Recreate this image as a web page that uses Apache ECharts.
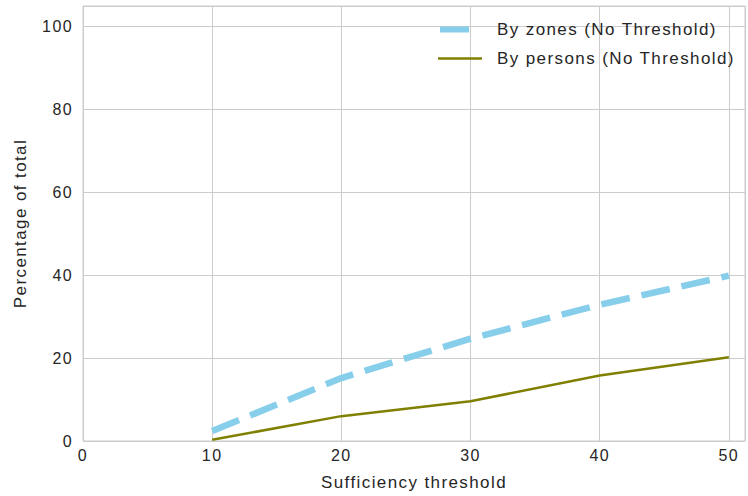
<!DOCTYPE html>
<html>
<head>
<meta charset="utf-8">
<script src="https://cdn.jsdelivr.net/npm/echarts@6/dist/echarts.min.js"></script>
<style>
  html, body { margin: 0; padding: 0; background: #fff; }
  #chart { width: 748px; height: 496px; }
  /* slightly open tracking on all chart text */
  #chart text { letter-spacing: 1.4px; }
</style>
</head>
<body>
<div id="chart"></div>
<script>
// Sufficiency thresholds (x) and share of total (%) reached
const thresholds = [10, 20, 30, 40, 50];
const byZones = [2.4, 15.2, 24.7, 32.9, 39.9];
const byPersons = [0.3, 6.0, 9.6, 15.8, 20.2];
const seriesNames = ['By zones (No Threshold)', 'By persons (No Threshold)'];

const textColor = '#262626';
const gridColor = '#cccccc';
const zoneColor = '#87ceeb';
const personColor = '#808000';
const fontFamily = 'Liberation Sans, Arial, sans-serif';

const chart = echarts.init(document.getElementById('chart'), null, { renderer: 'svg' });

const pairs = (xs, ys) => xs.map((x, i) => [x, ys[i]]);

// Legend swatches: a 44x14 box (fixed by the two corner moves) holding the stroke
const zoneIcon = 'path://M0,0 M44,14 M2,4 H31 V10 H2 Z';
const personIcon = 'path://M0,0 M44,14 M0,5.75 H44 V8.25 H0 Z';

chart.setOption({
  animation: false,
  backgroundColor: '#ffffff',
  textStyle: { fontFamily: fontFamily, color: textColor },
  grid: {
    left: 83, top: 6, right: 1, bottom: 54,
    show: true, borderColor: gridColor, borderWidth: 1, backgroundColor: '#ffffff'
  },
  legend: {
    orient: 'vertical',
    left: 438, top: 21,
    padding: 0,
    itemWidth: 44, itemHeight: 14, itemGap: 12,
    textStyle: { fontSize: 17, color: textColor, fontFamily: fontFamily, padding: [0, 0, 0, 10] },
    data: [
      { name: seriesNames[0], icon: zoneIcon, itemStyle: { color: zoneColor, borderWidth: 0 } },
      { name: seriesNames[1], icon: personIcon, itemStyle: { color: personColor, borderWidth: 0 } }
    ]
  },
  xAxis: {
    type: 'value',
    min: 0, max: 51.25, interval: 10,
    name: 'Sufficiency threshold',
    nameLocation: 'middle', nameGap: 33,
    nameTextStyle: { fontSize: 17, color: textColor },
    axisLine: { show: false },
    axisTick: { show: false },
    axisLabel: {
      fontSize: 16, color: textColor, margin: 6,
      formatter: v => (v % 10 === 0 ? String(v) : '')
    },
    splitLine: { show: true, lineStyle: { color: gridColor, width: 1 } }
  },
  yAxis: {
    type: 'value',
    min: 0, max: 105, interval: 20,
    name: 'Percentage of total',
    nameLocation: 'middle', nameGap: 54,
    nameTextStyle: { fontSize: 17, color: textColor },
    axisLine: { show: false },
    axisTick: { show: false },
    axisLabel: {
      fontSize: 16, color: textColor, margin: 10,
      formatter: v => (v % 20 === 0 ? String(v) : '')
    },
    splitLine: { show: true, lineStyle: { color: gridColor, width: 1 } }
  },
  series: [
    {
      name: seriesNames[0],
      type: 'line',
      data: pairs(thresholds, byZones),
      showSymbol: false, symbol: 'none',
      lineStyle: { color: zoneColor, width: 6.5, type: [29, 12], cap: 'butt' },
      itemStyle: { color: zoneColor },
      z: 3
    },
    {
      name: seriesNames[1],
      type: 'line',
      data: pairs(thresholds, byPersons),
      showSymbol: false, symbol: 'none',
      lineStyle: { color: personColor, width: 2.5 },
      itemStyle: { color: personColor },
      z: 2
    }
  ]
});
</script>
</body>
</html>
